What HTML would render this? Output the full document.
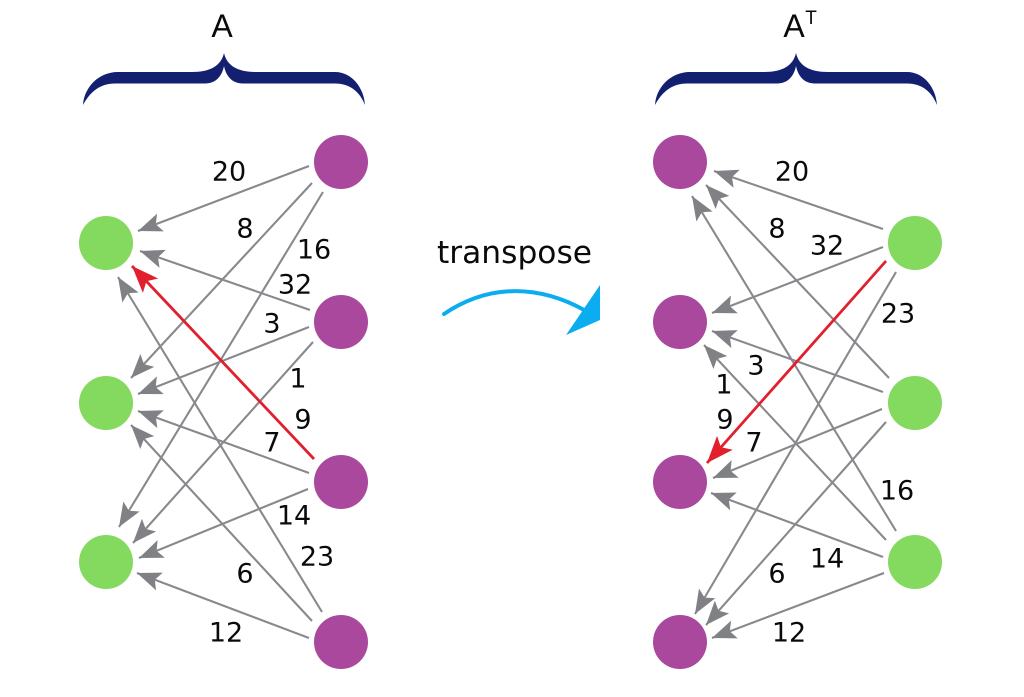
<!DOCTYPE html>
<html>
<head>
<meta charset="utf-8">
<style>
html,body{margin:0;padding:0;background:#fff;width:1024px;height:697px;overflow:hidden}
svg{display:block}
.n{font-family:"DejaVu Sans","Liberation Sans",sans-serif;font-size:27px;fill:#0a0a0a;text-anchor:middle;dominant-baseline:central}
.g line{stroke:#88898d;stroke-width:2.1;marker-end:url(#ag)}
.r{stroke:#e11f2d;stroke-width:2.8;marker-end:url(#ar)}
</style>
</head>
<body>
<svg width="1024" height="697" viewBox="0 0 1024 697" xmlns="http://www.w3.org/2000/svg">
<defs>
<marker id="ag" markerUnits="userSpaceOnUse" markerWidth="25" markerHeight="20" refX="24" refY="10" orient="auto"><path d="M24,10 L0,0.5 L5,10 L0,19.5Z" fill="#808185"/></marker>
<marker id="ar" markerUnits="userSpaceOnUse" markerWidth="28" markerHeight="22" refX="27" refY="11" orient="auto"><path d="M27,11 L0,0.5 L6,11 L0,21.5Z" fill="#e11f2d"/></marker>
<path id="b" d="M83,105 C84,88 98,72 118,72 L192,72 C210,72 221,66 224,53 C227,66 238,72 256,72 L335,72 C352,72 364,88 365,105 C360,92 350,83.5 335,83.5 L243,83.5 C232,83.5 226,76 224,66 C222,76 216,83.5 205,83.5 L115,83.5 C100,83.5 90,92 83,105Z" fill="#12206f"/>
</defs>

<use href="#b"/>
<use href="#b" x="572"/>
<text x="222" y="37" font-family="Liberation Sans,sans-serif" font-size="32" text-anchor="middle" fill="#0a0a0a">A</text>
<text x="794" y="37" font-family="Liberation Sans,sans-serif" font-size="32" text-anchor="middle" fill="#0a0a0a">A</text>
<text x="811" y="24" font-family="Liberation Sans,sans-serif" font-size="19" text-anchor="middle" fill="#0a0a0a">T</text>

<!-- left edges -->
<g class="g">
<line x1="309" y1="166" x2="138" y2="231"/>
<line x1="312" y1="183" x2="131" y2="378"/>
<line x1="323" y1="192" x2="119" y2="527"/>
<line x1="310" y1="310" x2="140" y2="251"/>
<line x1="309" y1="327" x2="138" y2="394"/>
<line x1="313" y1="342" x2="133" y2="543"/>
<line x1="309" y1="473" x2="138" y2="411"/>
<line x1="308" y1="489" x2="139" y2="558"/>
<line x1="322" y1="612" x2="118" y2="277"/>
<line x1="312" y1="621" x2="131" y2="425"/>
<line x1="309" y1="638" x2="137" y2="573"/>
</g>
<line class="r" x1="314" y1="459" x2="132" y2="266"/>

<!-- right edges -->
<g class="g">
<line x1="883" y1="229" x2="714" y2="171"/>
<line x1="889" y1="378" x2="706" y2="185"/>
<line x1="896" y1="531" x2="692" y2="196"/>
<line x1="883" y1="247" x2="712" y2="313"/>
<line x1="883" y1="392" x2="712" y2="331"/>
<line x1="886" y1="540" x2="704" y2="345"/>
<line x1="882" y1="409" x2="713" y2="478"/>
<line x1="883" y1="557" x2="711" y2="493"/>
<line x1="896" y1="272" x2="695" y2="614"/>
<line x1="886" y1="422" x2="706" y2="625"/>
<line x1="884" y1="573" x2="712" y2="638"/>
</g>
<line class="r" x1="886" y1="261" x2="707" y2="463"/>

<!-- nodes -->
<g fill="#84d95f">
<circle cx="106" cy="243" r="27"/><circle cx="106" cy="403" r="27"/><circle cx="106" cy="562" r="27"/>
<circle cx="915" cy="243" r="27"/><circle cx="915" cy="403" r="27"/><circle cx="915" cy="562" r="27"/>
</g>
<g fill="#a9489c">
<circle cx="341" cy="162" r="27"/><circle cx="341" cy="322" r="27"/><circle cx="341" cy="482" r="27"/><circle cx="341" cy="642" r="27"/>
<circle cx="680" cy="162" r="27"/><circle cx="680" cy="322" r="27"/><circle cx="680" cy="482" r="27"/><circle cx="680" cy="642" r="27"/>
</g>

<!-- labels left -->
<text class="n" x="229" y="172">20</text>
<text class="n" x="245" y="229">8</text>
<text class="n" x="314" y="250">16</text>
<text class="n" x="295" y="285">32</text>
<text class="n" x="272" y="324">3</text>
<text class="n" x="298" y="379">1</text>
<text class="n" x="303" y="420">9</text>
<text class="n" x="272" y="443">7</text>
<text class="n" x="294" y="516">14</text>
<text class="n" x="317" y="557">23</text>
<text class="n" x="245" y="574">6</text>
<text class="n" x="226" y="633">12</text>

<!-- labels right -->
<text class="n" x="792" y="172">20</text>
<text class="n" x="777" y="229">8</text>
<text class="n" x="827" y="246">32</text>
<text class="n" x="898" y="314">23</text>
<text class="n" x="756" y="366">3</text>
<text class="n" x="724" y="385">1</text>
<text class="n" x="725" y="420">9</text>
<text class="n" x="754" y="443">7</text>
<text class="n" x="897" y="491">16</text>
<text class="n" x="827" y="559">14</text>
<text class="n" x="777" y="574">6</text>
<text class="n" x="789" y="633">12</text>

<!-- transpose -->
<text x="437" y="263" font-family="DejaVu Sans,sans-serif" font-size="31" fill="#0a0a0a" textLength="155" lengthAdjust="spacingAndGlyphs">transpose</text>
<path d="M444,314 C490,283 540,285 586,311" fill="none" stroke="#0badf0" stroke-width="4" stroke-linecap="round"/>
<path d="M600,285 L566,335 L600,320Z" fill="#0badf0"/>
</svg>
</body>
</html>
